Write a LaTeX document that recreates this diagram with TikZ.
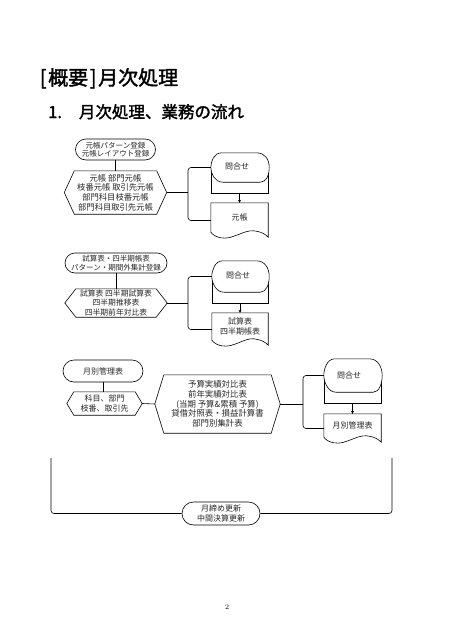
\documentclass[tikz,border=0pt]{standalone}
\usepackage{fontspec}
\newfontfamily\jp{Noto Sans CJK JP}
\newfontfamily\jpm[FakeBold=1.8]{Noto Sans CJK JP}
\usetikzlibrary{arrows.meta}
\tikzset{
  x=1pt, y=-1pt,
  ln/.style={line width=0.6pt, draw=black},
  tx/.style={font=\jp\fontsize{8}{9.6}\selectfont, align=center, inner sep=0pt, text=black!85},
  term/.style={tx, ln, draw, rounded corners=#1},
  arr/.style={ln, -{Stealth[length=3pt,width=3pt]}},
  brk/.style={ln, rounded corners=3pt}
}
\newcommand\hexa[2]{%
  \draw[ln] (#1.west) -- ([xshift=#2]#1.north west) -- ([xshift=-#2]#1.north east) -- (#1.east)
    -- ([xshift=-#2]#1.south east) -- ([xshift=#2]#1.south west) -- cycle;}
\newcommand\disp[1]{%
  \draw[ln] (#1.west) -- ([yshift=-11pt]#1.south west) -- ([yshift=-11pt]#1.south east) -- ([yshift=-4pt]#1.east);
  \draw[ln, fill=white] ([xshift=11pt]#1.north west) -- ([xshift=-12pt]#1.north east)
    .. controls ([xshift=-3pt]#1.north east) and ([xshift=1pt,yshift=8pt]#1.east) .. ([xshift=1pt]#1.east)
    .. controls ([xshift=1pt,yshift=-8pt]#1.east) and ([xshift=-2pt]#1.south east) .. ([xshift=-8pt]#1.south east)
    -- ([xshift=12pt]#1.south west)
    .. controls ([xshift=4pt]#1.south west) and ([yshift=-6pt]#1.west) .. (#1.west)
    .. controls ([yshift=6pt]#1.west) and ([xshift=3pt]#1.north west) .. ([xshift=11pt]#1.north west);}
\newcommand\docu[1]{%
  \draw[ln] (#1.south west) -- (#1.north west) -- (#1.north east) -- ([yshift=-5pt]#1.south east)
    .. controls ([xshift=-3pt,yshift=-2pt]#1.south east) and ([xshift=-6pt]#1.south east) .. ([xshift=-12pt,yshift=1pt]#1.south east)
    .. controls ([xshift=-20pt,yshift=3pt]#1.south east) and ([xshift=30pt,yshift=-2pt]#1.south west) .. ([xshift=20pt,yshift=-5pt]#1.south west)
    .. controls ([xshift=12pt,yshift=-7pt]#1.south west) and ([xshift=5pt,yshift=-6pt]#1.south west) .. (#1.south west) -- cycle;}
\begin{document}
\begin{tikzpicture}
\useasboundingbox (0,0) rectangle (450,640);

% titles
\node[anchor=base west, inner sep=0pt, font=\jpm\fontsize{20}{24}\selectfont] (title) at (38,85)
  {\makebox[0.5em]{[}概要\makebox[0.5em]{]}月次処理};
\node[anchor=base west, inner sep=0pt, font=\jpm\fontsize{16.5}{20}\selectfont] (sub) at (48,118)
  {1.\hspace{17pt}月次処理、業務の流れ};

% ---- section 1
\node[term=10.5pt, minimum width=80pt, minimum height=21pt, font=\jp\fontsize{7.5}{8.6}\selectfont] (t1) at (115.5,149.5)
  {元帳パターン登録\\元帳レイアウト登録};
\node[tx, minimum width=102pt, minimum height=43pt, font=\jp\fontsize{8.3}{9.7}\selectfont] (h1) at (115.5,192.5)
  {元帳\ 部門元帳\\枝番元帳\ 取引先元帳\\部門科目枝番元帳\\部門科目取引先元帳};
\hexa{h1}{10pt}
\draw[ln] (t1.south) -- (h1.north);
\coordinate (k1) at (188,192.5);
\node[tx, minimum width=57pt, minimum height=29pt] (d1) at (239.5,167.5) {};
\disp{d1}
\node[tx] (d1t) at (237,166) {問合せ};
\coordinate (d1b) at ([yshift=-11pt]d1.south);
\node[tx, minimum width=57pt, minimum height=29pt] (c1) at (239.5,217.5) {元帳};
\docu{c1}
\draw[arr] (d1b) -- (c1.north);
\draw[ln] (h1.east) -- (k1);
\draw[brk] (d1.west) -| (k1) |- ([yshift=-3pt]c1.west);

% ---- section 2
\node[term=10pt, minimum width=102pt, minimum height=20pt, font=\jp\fontsize{7.5}{8.8}\selectfont] (t2) at (116,263)
  {試算表・四半期帳表\\パターン・期間外集計登録};
\node[tx, minimum width=102pt, minimum height=28pt, font=\jp\fontsize{7.8}{9.4}\selectfont] (h2) at (116,303)
  {試算表\ 四半期試算表\\四半期推移表\\四半期前年対比表};
\hexa{h2}{11pt}
\draw[ln] (t2.south) -- (h2.north);
\coordinate (k2) at (188,303);
\node[tx, minimum width=56pt, minimum height=31pt] (d2) at (240,276.5) {};
\disp{d2}
\node[tx] (d2t) at (238,275) {問合せ};
\coordinate (d2b) at ([yshift=-11pt]d2.south);
\node[tx, minimum width=56pt, minimum height=27pt] (c2) at (240,326.5) {試算表\\四半期帳表};
\docu{c2}
\draw[arr] (d2b) -- (c2.north);
\draw[ln] (h2.east) -- (k2);
\draw[brk] (d2.west) -| (k2) |- ([yshift=-3pt]c2.west);

% ---- section 3
\node[term=11pt, minimum width=80pt, minimum height=22pt] (t3) at (103,371) {月別管理表};
\node[tx, minimum width=75pt, minimum height=23pt] (h3) at (104.5,403.5) {科目、部門\\枝番、取引先};
\hexa{h3}{7pt}
\draw[ln] (t3.south) -- (t3.south |- h3.north);
\node[tx, minimum width=125pt, minimum height=58pt, font=\jp\fontsize{8.4}{9.7}\selectfont] (h4) at (217.5,404)
  {予算実績対比表\\前年実績対比表\\(当期\ 予算\&累積\ 予算)\\貸借対照表・損益計算書\\部門別集計表};
\hexa{h4}{9pt}
\draw[ln] (h3.east) -- (h4.west);
\coordinate (k3) at (303,404);
\node[tx, minimum width=57pt, minimum height=33pt] (d3) at (352.5,375.5) {};
\disp{d3}
\node[tx] (d3t) at (349,375) {問合せ};
\coordinate (d3b) at ([yshift=-11pt]d3.south);
\node[tx, minimum width=57pt, minimum height=23pt] (c3) at (352.5,425.5) {月別管理表};
\docu{c3}
\draw[arr] (d3b) -- (c3.north);
\draw[ln] (h4.east) -- (k3);
\draw[brk] (d3.west) -| (k3) |- ([yshift=-3pt]c3.west);

% ---- bottom
\node[term=11.5pt, minimum width=78pt, minimum height=23pt] (t4) at (221,513.5) {月締め更新\\中間決算更新};
\coordinate (lt) at (51,458);
\coordinate (rt) at (392,458);
\draw[brk] (lt) |- (t4.west);
\draw[brk] (rt) |- (t4.east);

\node[font=\fontsize{7}{8}\selectfont, inner sep=0pt] (pg) at (227,607.5) {2};
\end{tikzpicture}
\end{document}
